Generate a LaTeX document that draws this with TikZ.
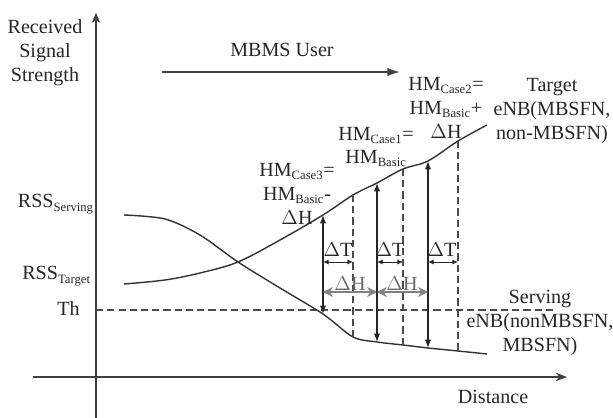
\documentclass[tikz,border=0pt]{standalone}
\usepackage{fontspec}
\setmainfont{Liberation Serif}
\usetikzlibrary{arrows.meta}
\newcommand\sbs[1]{\textsubscript{\fontsize{9}{9}\selectfont #1}}

\begin{document}
\begin{tikzpicture}[>=Stealth,x=0.025cm,y=-0.025cm,font=\fontsize{14.3}{17}\selectfont]
\tikzstyle{ax}=[draw=black!75,line width=1.1pt]
\tikzstyle{crv}=[draw=black!80,line width=1pt]
\tikzstyle{dsh}=[draw=black!70,line width=0.8pt,dash pattern=on 5pt off 3pt]
\tikzstyle{hm}=[<->,draw=black!85,line width=0.8pt,>={Latex[length=6pt,width=4.5pt]}]
\tikzstyle{dt}=[<->,draw=black!85,line width=0.6pt,>={Latex[length=4pt,width=3.5pt]}]
\tikzstyle{dh}=[<->,draw=black!50,line width=1.5pt,>={Stealth[length=7pt,width=7pt]}]
\tikzstyle{lbl}=[text=black!85,align=center,inner sep=0pt]
\useasboundingbox (0,0) rectangle (613,418);
% axes
\coordinate (ybot) at (96,418); \coordinate (ytop) at (96,13);
\coordinate (xl) at (33,377); \coordinate (xr) at (567,377);
\draw[ax,-{Stealth[length=7pt,width=6pt]}] (ybot) -- (ytop);
\draw[ax,-{Stealth[length=8pt,width=6pt]}] (xl) -- (xr);
% threshold
\coordinate (th0) at (96,310); \coordinate (th1) at (557,310);
\draw[dsh] (th0) -- (th1);
% points on the two curves
\foreach \n/\x/\yt/\ys in {1/323/215/314,2/353/195/337,3/377/183/342,4/403/169/345,5/428/161/348,6/458/141/351} {
 \coordinate (t\n) at (\x,\yt);
 \coordinate (s\n) at (\x,\ys);
}
\draw[crv] plot[smooth,tension=0.55] coordinates {(124,284) (165,280) (200,273) (238,262) (280,240) (t1) (t2) (t3) (t4) (t5) (t6) (487,125)};
\draw[crv] plot[smooth,tension=0.5] coordinates {(124,215) (165,219) (200,235) (238,262) (280,288) (s1) (s2) (s3) (s4) (s5) (s6) (487,354)};
% handover margins
\foreach \n in {1,3,5} \draw[hm] (t\n) -- (s\n);
\foreach \n in {2,4,6} \draw[dsh] (t\n) -- (s\n);
\coordinate (dT) at (0,262); \coordinate (dH) at (0,292);
\foreach \a/\b in {1/2,3/4,5/6} \draw[dt] (t\a |- dT) -- (t\b |- dT);
\node[lbl] (dt1) at (338,250) {$\Delta$T};
\node[lbl] (dt2) at (390,250) {$\Delta$T};
\node[lbl] (dt3) at (442,250) {$\Delta$T};
\draw[dh] (t1 |- dH) -- (t3 |- dH);
\draw[dh] (t3 |- dH) -- (t5 |- dH);
\node[lbl,text=black!60] (dh1) at (350,284) {$\Delta$H};
\node[lbl,text=black!60] (dh2) at (402,284) {$\Delta$H};
% user movement
\coordinate (u0) at (162,72); \coordinate (u1) at (400,72);
\draw[ax,-{Latex[length=9pt,width=6pt]}] (u0) -- (u1);
\node[lbl] (mbms) at (282,50) {MBMS User};
% labels
\node[lbl] (ylab) at (45,53) {Received\\Signal\\Strength};
\node[lbl,anchor=base east] (rsss) at (94,208) {RSS\sbs{Serving}};
\node[lbl,anchor=base east] (rsst) at (91,280) {RSS\sbs{Target}};
\node[lbl,anchor=base east] (th) at (80,316) {Th};
\node[lbl] (xlab) at (493,397) {Distance};
\node[lbl] (hm3) at (297,194) {HM\sbs{Case3}=\\HM\sbs{Basic}-\\$\Delta$H};
\node[lbl] (hm1) at (376,147) {HM\sbs{Case1}=\\HM\sbs{Basic}};
\node[lbl] (hm2) at (446,108) {HM\sbs{Case2}=\\HM\sbs{Basic}+\\$\Delta$H};
\node[lbl] (tgt) at (552,111) {Target\\eNB(MBSFN,\\non-MBSFN)};
\node[lbl] (srv) at (540,323) {Serving\\eNB(nonMBSFN,\\MBSFN)};
\end{tikzpicture}
\end{document}
